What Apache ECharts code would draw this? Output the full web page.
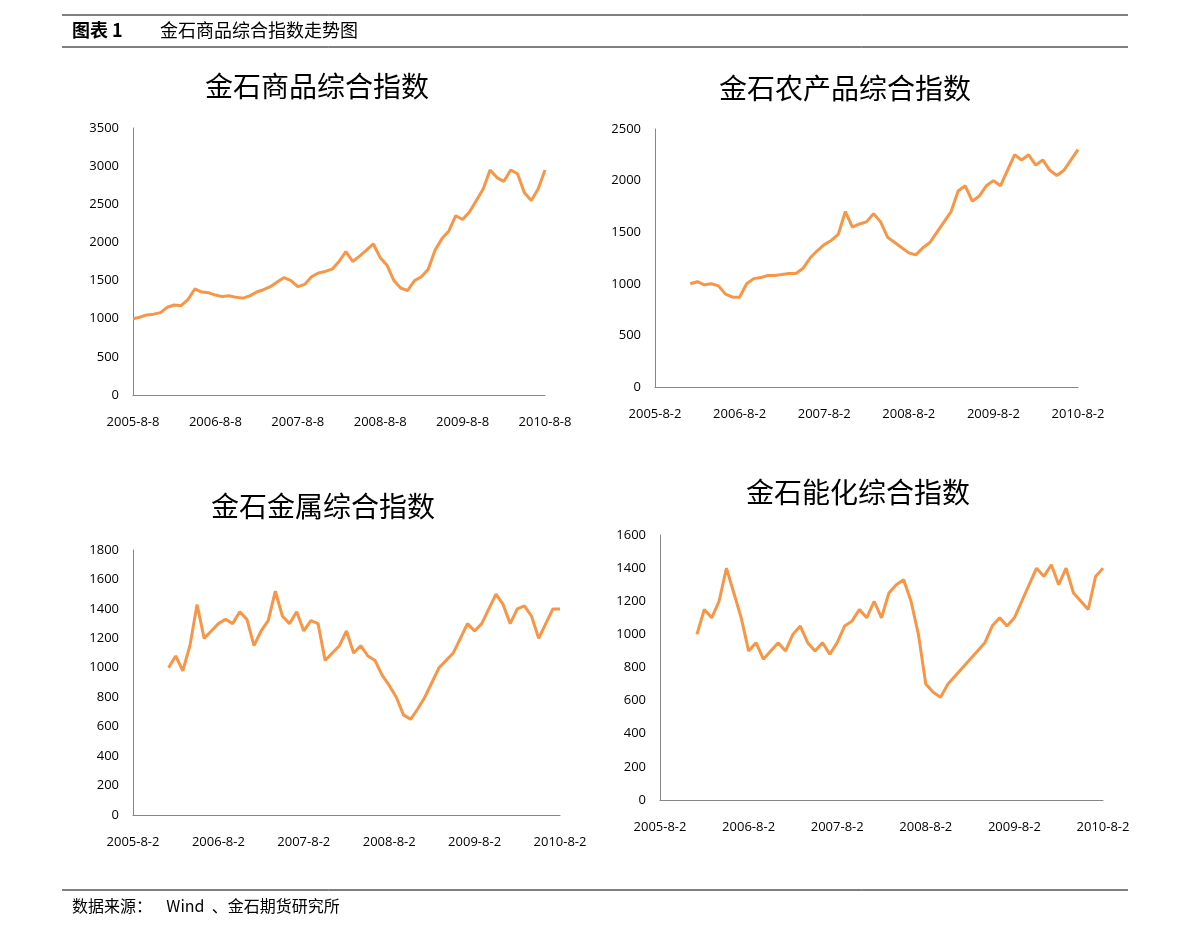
<!DOCTYPE html>
<html><head><meta charset="utf-8">
<script src="https://cdn.jsdelivr.net/npm/echarts@6/dist/echarts.min.js"></script>
<style>html,body{margin:0;background:#fff}#c{width:1191px;height:938px}</style>
</head><body><div id="c"></div>
<script>
function months(startDay){const a=[];for(let i=0;i<=60;i++){const y=2005+Math.floor((7+i)/12),m=(7+i)%12+1;a.push(y+'-'+m+'-'+startDay);}return a;}
const cats1 = months(8);
const cats2 = months(2);
const titles = ['金石商品综合指数','金石农产品综合指数','金石金属综合指数','金石能化综合指数'];
const comp = [1000,1020,1050,1060,1080,1150,1180,1170,1250,1390,1350,1340,1310,1290,1300,1280,1270,1300,1350,1380,1420,1480,1540,1500,1420,1450,1550,1600,1620,1650,1750,1880,1750,1820,1900,1980,1800,1700,1500,1400,1370,1500,1550,1650,1900,2050,2150,2350,2300,2400,2550,2700,2950,2850,2800,2950,2900,2650,2550,2700,2950];
const agri = [null,null,null,null,null,1000,1020,990,1000,980,900,870,870,1000,1050,1060,1080,1080,1090,1100,1100,1150,1250,1320,1380,1420,1480,1700,1550,1580,1600,1680,1600,1450,1400,1350,1300,1280,1350,1400,1500,1600,1700,1900,1950,1800,1850,1950,2000,1950,2100,2250,2200,2250,2150,2200,2100,2050,2100,2200,2300];
const metal = [null,null,null,null,null,1000,1080,980,1150,1430,1200,1250,1300,1330,1300,1380,1330,1150,1250,1320,1520,1350,1300,1380,1250,1320,1300,1050,1100,1150,1250,1100,1150,1080,1050,950,880,800,680,650,720,800,900,1000,1050,1100,1200,1300,1250,1300,1400,1500,1430,1300,1400,1420,1350,1200,1300,1400,1400];
const energy = [null,null,null,null,null,1000,1150,1100,1200,1400,1250,1100,900,950,850,900,950,900,1000,1050,950,900,950,880,950,1050,1080,1150,1100,1200,1100,1250,1300,1330,1200,1000,700,650,620,700,750,800,850,900,950,1050,1100,1050,1100,1200,1300,1400,1350,1420,1300,1400,1250,1200,1150,1350,1400];
const yMax = [3500,2500,1800,1600];
const yInt = [500,500,200,200];
const grids = [
 {left:133,top:128,width:412,height:267},
 {left:655,top:129,width:423,height:258},
 {left:133,top:550,width:427,height:265},
 {left:660,top:535,width:443,height:265}];
const titleY=[86,88,506,492], titleX=[317,845,323,858];
const series=[comp,agri,metal,energy];
const cats=[cats1,cats2,cats2,cats2];
const font='"Noto Sans CJK SC","Open Sans",sans-serif';
const opt={animation:false,grid:grids.map(g=>Object.assign({containLabel:false},g)),
 xAxis:grids.map((g,i)=>({type:'category',gridIndex:i,data:cats[i],boundaryGap:false,
  axisLine:{lineStyle:{color:'#868686'}},axisTick:{show:false},
  axisLabel:{interval:11,color:'#000',fontSize:13,fontFamily:'Open Sans',margin:21,showMaxLabel:true}})),
 yAxis:grids.map((g,i)=>({type:'value',gridIndex:i,min:0,max:yMax[i],interval:yInt[i],
  axisLine:{show:true,lineStyle:{color:'#868686'}},axisTick:{show:false},splitLine:{show:false},
  axisLabel:{color:'#000',fontSize:13,fontFamily:'Open Sans',margin:14,formatter:v=>String(v)}})),
 series:series.map((d,i)=>({type:'line',xAxisIndex:i,yAxisIndex:i,data:d,showSymbol:false,
  lineStyle:{color:'#F79646',width:3},itemStyle:{color:'#F79646'}})),
 graphic:[
  {type:'line',shape:{x1:62,y1:15,x2:1128,y2:15},style:{stroke:'#000',lineWidth:1}},
  {type:'line',shape:{x1:62,y1:47,x2:1128,y2:47},style:{stroke:'#000',lineWidth:1}},
  {type:'line',shape:{x1:62,y1:890,x2:1128,y2:890},style:{stroke:'#000',lineWidth:1}},
  {type:'text',left:72,top:21,style:{text:'图表 1',font:'bold 18px '+font,fill:'#000'}},
  {type:'text',left:160,top:21,style:{text:'金石商品综合指数走势图',font:'18px '+font,fill:'#000'}},
  {type:'text',left:72,top:898,style:{text:'数据来源：    Wind  、金石期货研究所',font:'16px '+font,fill:'#000'}},
 ].concat(titles.map((t,i)=>({type:'text',x:titleX[i],y:titleY[i],style:{text:t,font:'28px '+font,fill:'#000',align:'center',verticalAlign:'middle'}})))
};
echarts.init(document.getElementById('c')).setOption(opt);
</script></body></html>
